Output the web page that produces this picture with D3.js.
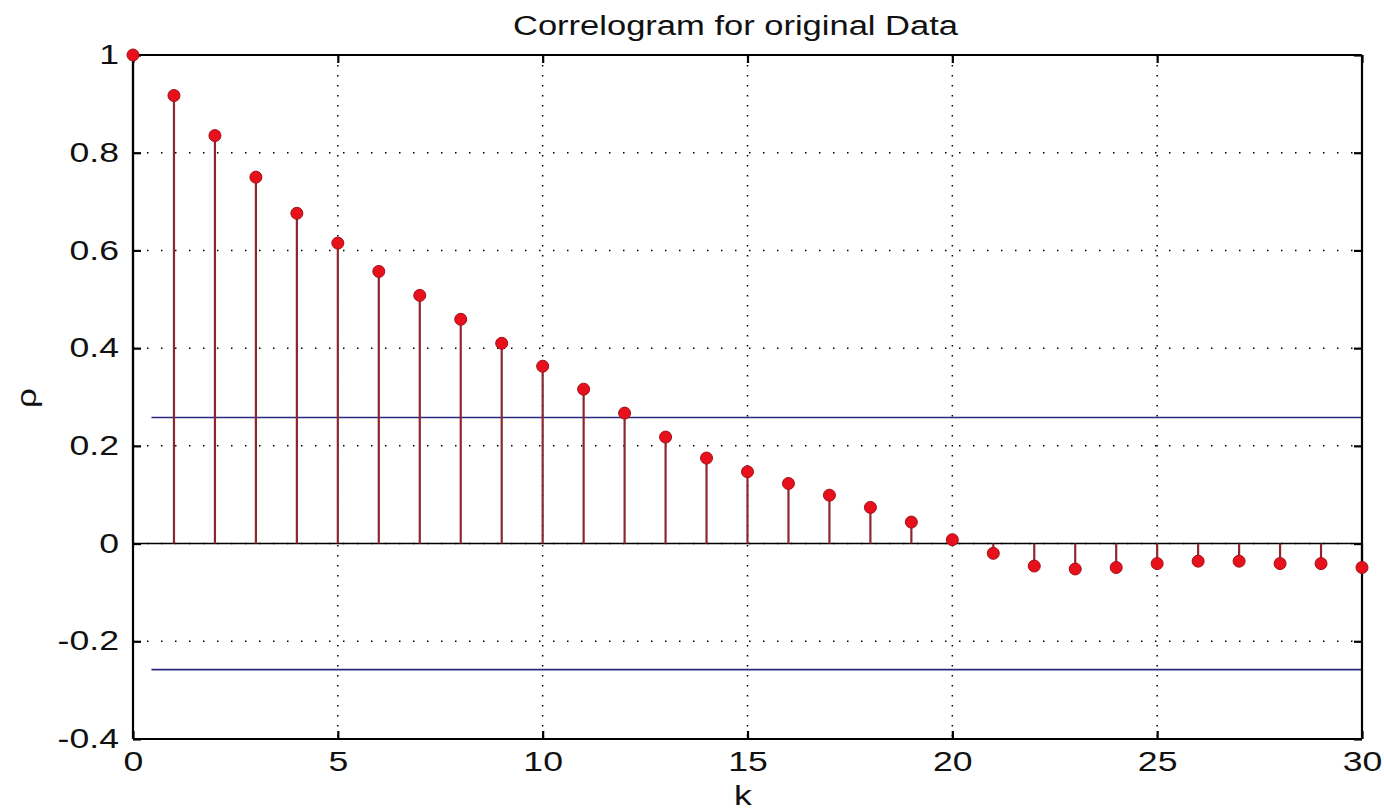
<!DOCTYPE html>
<html><head><meta charset="utf-8">
<script src="https://cdn.jsdelivr.net/npm/d3@7"></script>
<style>body{margin:0;background:#fff}svg{display:block}</style>
</head><body>
<script>
const lags = d3.range(0, 31);
const rho = [1.000, 0.917, 0.835, 0.750, 0.676, 0.615, 0.557, 0.508, 0.459, 0.410,
             0.363, 0.316, 0.267, 0.218, 0.175, 0.147, 0.123, 0.099, 0.074, 0.044,
             0.008, -0.020, -0.046, -0.052, -0.049, -0.041, -0.036, -0.036, -0.041, -0.041, -0.049];
const confBound = 0.258;
const confStart = 0.45;
const xTicks = [0, 5, 10, 15, 20, 25, 30];
const yTicks = [-0.4, -0.2, 0, 0.2, 0.4, 0.6, 0.8, 1];
const yTickLabels = ["-0.4", "-0.2", "0", "0.2", "0.4", "0.6", "0.8", "1"];
const titleText = "Correlogram for original Data";
const xLabel = "k";
const yLabel = "ρ";

const W = 1384, H = 810;
const m = {left: 133, right: 1384 - 1362, top: 55, bottom: 810 - 739};
const svg = d3.select("body").append("svg").attr("width", W).attr("height", H);
const x = d3.scaleLinear().domain([0, 30]).range([m.left, W - m.right]);
const y = d3.scaleLinear().domain([-0.4, 1]).range([H - m.bottom, m.top]);
const font = "'Liberation Sans', Arial, sans-serif";
const SX = 1.32;

// grid
const g = svg.append("g");
g.selectAll(".gx").data(xTicks.slice(1, -1)).join("line")
  .attr("x1", d => x(d)).attr("x2", d => x(d)).attr("y1", y(1)).attr("y2", y(-0.4))
  .attr("stroke", "#000").attr("stroke-width", 1.5).attr("stroke-dasharray", "1.5,8.5");
g.selectAll(".gy").data(yTicks.slice(1, -1)).join("line")
  .attr("y1", d => y(d)).attr("y2", d => y(d)).attr("x1", x(0)).attr("x2", x(30))
  .attr("stroke", "#000").attr("stroke-width", 1.5).attr("stroke-dasharray", "1.5,12.5");

// zero line
svg.append("line").attr("x1", x(0)).attr("x2", x(30)).attr("y1", y(0)).attr("y2", y(0))
  .attr("stroke", "#000").attr("stroke-width", 1.6);

// confidence bounds
[confBound, -confBound].forEach(c => {
  svg.append("line").attr("x1", x(confStart)).attr("x2", x(30)).attr("y1", y(c)).attr("y2", y(c))
    .attr("stroke", "#2a2a80").attr("stroke-width", 1.6);
});

// stems
svg.selectAll(".stem").data(lags).join("line")
  .attr("x1", d => x(d)).attr("x2", d => x(d)).attr("y1", y(0)).attr("y2", (d, i) => y(rho[i]))
  .attr("stroke", "#8e2630").attr("stroke-width", 2.2);

// axes box
const axB = d3.axisBottom(x).tickValues(xTicks).tickSize(-8).tickPadding(13).tickFormat(d3.format("d"));
const axL = d3.axisLeft(y).tickValues(yTicks).tickSize(-8).tickPadding(14)
  .tickFormat(d => yTickLabels[yTicks.indexOf(d)]);
const axT = d3.axisTop(x).tickValues(xTicks).tickSize(-8).tickFormat("");
const axR = d3.axisRight(y).tickValues(yTicks).tickSize(-8).tickFormat("");
function style(sel) {
  sel.selectAll("path").attr("stroke", "#000").attr("stroke-width", 2.2);
  sel.selectAll("line").attr("stroke", "#000").attr("stroke-width", 2.2);
  sel.selectAll("text").attr("font-family", font).attr("font-size", 27).attr("fill", "#111")
    .each(function() {
      const t = d3.select(this);
      const xx = +t.attr("x") || 0;
      t.attr("x", xx / SX).attr("transform", `scale(${SX},1)`);
    });
}
svg.append("g").attr("transform", `translate(0,${y(-0.4)})`).call(axB).call(style)
  .selectAll("path").attr("d", `M${x(0)},0H${x(30)}`);
svg.append("g").attr("transform", `translate(${x(0)},0)`).call(axL).call(style)
  .selectAll("path").attr("d", `M0,${y(-0.4)}V${y(1)}`);
svg.append("g").attr("transform", `translate(0,${y(1)})`).call(axT).call(style)
  .selectAll("path").attr("d", `M${x(0)},0H${x(30)}`);
svg.append("g").attr("transform", `translate(${x(30)},0)`).call(axR).call(style)
  .selectAll("path").attr("d", `M0,${y(-0.4)}V${y(1)}`);

// markers
svg.selectAll(".pt").data(lags).join("circle")
  .attr("cx", d => x(d)).attr("cy", (d, i) => y(rho[i])).attr("r", 6)
  .attr("fill", "#e8101a").attr("stroke", "#a0101a").attr("stroke-width", 1);

// labels
svg.append("text").attr("x", 513).attr("y", 35)
  .attr("textLength", 445).attr("lengthAdjust", "spacingAndGlyphs")
  .attr("font-family", font).attr("font-size", 27).attr("fill", "#111").text(titleText);
svg.append("text").attr("x", 743 / SX).attr("y", 805).attr("transform", `scale(${SX},1)`).attr("text-anchor", "middle")
  .attr("font-family", font).attr("font-size", 27).attr("fill", "#111").text(xLabel);
svg.append("text").attr("transform", `translate(36,${398}) rotate(-90) scale(1.3,1)`)
  .attr("text-anchor", "middle").attr("font-family", font).attr("font-size", 27).attr("fill", "#111").text(yLabel);
</script>
</body></html>
